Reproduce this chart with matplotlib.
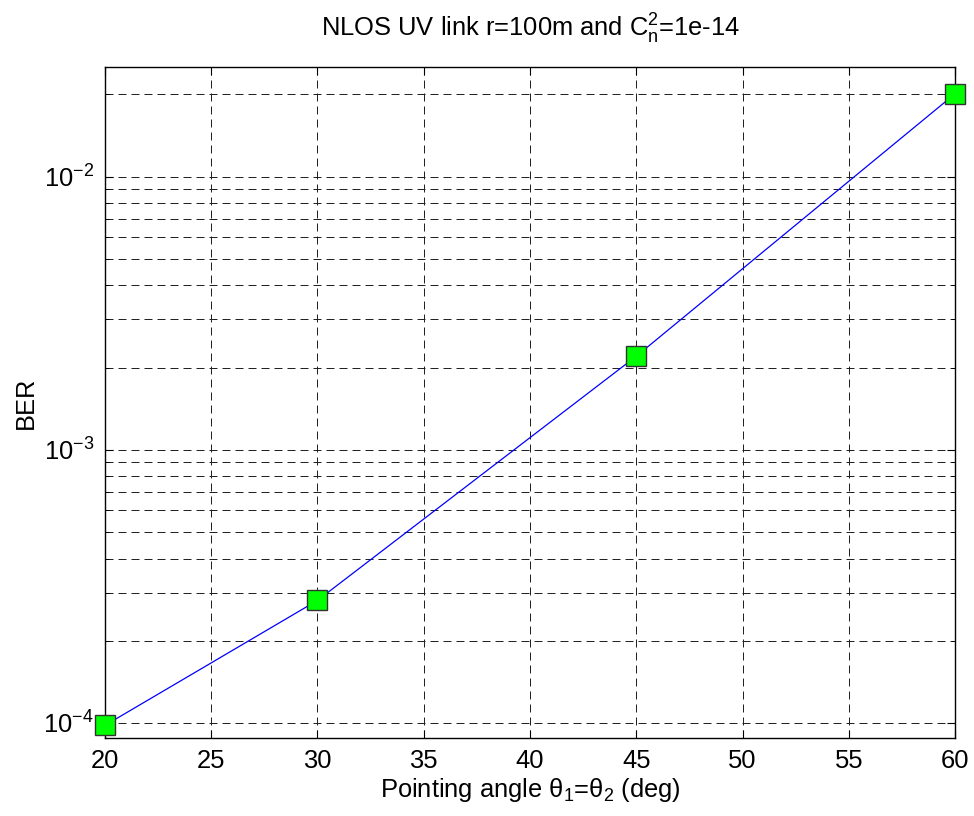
import numpy as np
import matplotlib
matplotlib.use('Agg')
import matplotlib.pyplot as plt
from matplotlib.ticker import LogLocator, FixedLocator, NullFormatter

plt.rcParams['font.family'] = ['Liberation Sans', 'DejaVu Sans']
plt.rcParams['mathtext.fontset'] = 'custom'
plt.rcParams['mathtext.rm'] = 'Liberation Sans'
plt.rcParams['mathtext.it'] = 'Liberation Sans'

# pointing angle (deg) and bit error rate
angles = [20, 30, 45, 60]
ber = [9.8e-5, 2.81e-4, 2.2e-3, 2.01e-2]
xticks = [20, 25, 30, 35, 40, 45, 50, 55, 60]

fs = 18.4
fig = plt.figure(figsize=(9.74, 8.16), dpi=100)
ax = fig.add_axes([0.1078, 0.0956, 0.8727, 0.8223])

ax.plot(angles, ber, color='#0000ff', lw=0.9, marker='s', ms=14.5,
        mfc='#00ff00', mec='#333333', mew=1.0, zorder=5, clip_on=False)

ax.set_yscale('log')
ax.set_xlim(20, 60)
ax.set_ylim(8.81e-5, 2.52e-2)
ax.xaxis.set_major_locator(FixedLocator(xticks))
ax.yaxis.set_major_locator(LogLocator(base=10, numticks=10))
minor = [k * 10.0 ** e for e in (-4, -3, -2) for k in range(2, 10)]
ax.yaxis.set_minor_locator(FixedLocator(minor))
ax.yaxis.set_minor_formatter(NullFormatter())

dash = (0, (8, 5))
ax.grid(True, which='major', axis='both', color='#222222', lw=0.72, linestyle=dash)
ax.grid(True, which='minor', axis='y', color='#222222', lw=0.72, linestyle=dash)
ax.set_axisbelow(True)

ax.tick_params(which='both', direction='in', top=True, right=True, labelsize=fs, pad=8)
ax.tick_params(which='major', length=6)
ax.tick_params(which='minor', length=3)
for s in ax.spines.values():
    s.set_linewidth(1.0)

ax.set_title(r'NLOS UV link r=100m and C$_\mathrm{n}^\mathrm{2}$=1e-14', fontsize=fs, pad=22)
ax.set_xlabel(r'Pointing angle θ$_\mathrm{1}$=θ$_\mathrm{2}$ (deg)', fontsize=fs, labelpad=2)
ax.set_ylabel('BER', fontsize=fs, labelpad=4)

fig.savefig('out.png', dpi=100)
